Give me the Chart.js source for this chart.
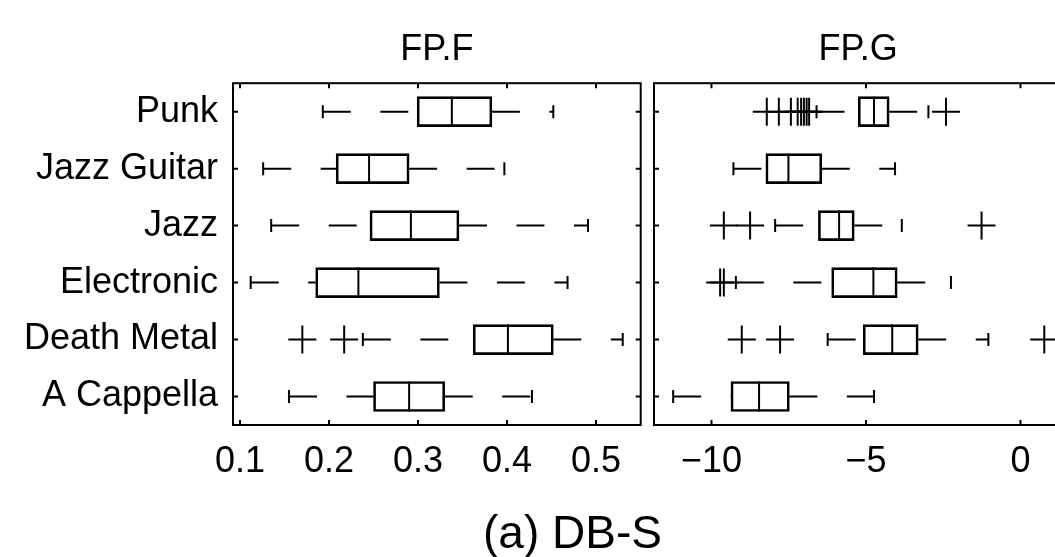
<!DOCTYPE html>
<html>
<head>
<meta charset="utf-8">
<script src="https://cdn.jsdelivr.net/npm/chart.js@4.4.1/dist/chart.umd.min.js"></script>
<style>
  html, body { margin: 0; padding: 0; background: #fff; overflow: hidden; }
  #wrap { position: relative; width: 1055px; height: 557px; overflow: hidden; }
  .panel { position: absolute; top: 0; height: 557px; }
  #left { left: 0; width: 648px; }
  #right { left: 648px; width: 425px; }
  #caption { position: absolute; left: 483px; top: 509px; font-family: 'Liberation Sans', Arial, sans-serif; font-size: 46px; line-height: 46px; white-space: nowrap; color: #000; }
</style>
</head>
<body>
<div id="wrap">
  <div class="panel" id="left"><canvas id="chartF" width="648" height="557"></canvas></div>
  <div class="panel" id="right"><canvas id="chartG" width="425" height="557"></canvas></div>
  <div id="caption">(a) DB-S</div>
</div>
<script>
var categories = ['Punk', 'Jazz Guitar', 'Jazz', 'Electronic', 'Death Metal', 'A Cappella'];

// FP.F boxes (whisker ends, quartiles, median)
var fpfLow  = [0.193, 0.126, 0.135, 0.112, 0.238, 0.155];
var fpfQ1   = [0.299, 0.208, 0.246, 0.185, 0.362, 0.250];
var fpfMed  = [0.338, 0.245, 0.292, 0.233, 0.401, 0.290];
var fpfQ3   = [0.383, 0.290, 0.346, 0.324, 0.452, 0.330];
var fpfHigh = [0.452, 0.397, 0.491, 0.468, 0.530, 0.428];
var fpfOutliers = [[], [], [], [], [0.170, 0.217], []];
var fpfTicks = [0.1, 0.2, 0.3, 0.4, 0.5];

// FP.G boxes
var fpgLow  = [-6.60, -9.29, -7.94, -9.21, -6.24, -11.24];
var fpgQ1   = [-5.25, -8.24, -6.54, -6.11, -5.09, -9.37];
var fpgMed  = [-4.74, -7.51, -5.87, -4.76, -4.15, -8.46];
var fpgQ3   = [-4.25, -6.43, -5.38, -3.99, -3.31, -7.48];
var fpgHigh = [-2.98, -4.06, -3.84, -2.25, -1.04, -4.74];
var fpgOutliers = [
  [-8.21, -7.82, -7.43, -7.21, -7.10, -7.01, -6.92, -6.84, -2.41],
  [],
  [-9.60, -8.75, -1.26],
  [-9.72, -9.60],
  [-9.02, -7.78, 0.77],
  []
];
var fpgTicks = [-10, -5, 0];

var FONT = "'Liberation Sans', Arial, sans-serif";

function boxDatasets(low, q1, med, q3, high, outliers) {
  var whiskers = [], caps = [], meds = [], outs = [];
  categories.forEach(function (c, i) {
    whiskers.push({x: low[i], y: c}, {x: q1[i], y: c}, {x: null, y: c});
    whiskers.push({x: q3[i], y: c}, {x: high[i], y: c}, {x: null, y: c});
    caps.push({x: low[i], y: c}, {x: high[i], y: c});
    meds.push({x: med[i], y: c});
    outliers[i].forEach(function (v) { outs.push({x: v, y: c}); });
  });
  return [
    {
      type: 'bar',
      data: q1.map(function (v, i) { return [v, q3[i]]; }),
      backgroundColor: 'rgba(0,0,0,0)',
      borderColor: '#000',
      borderWidth: 2,
      borderSkipped: false,
      barThickness: 30
    },
    {
      type: 'scatter', data: whiskers, showLine: true, spanGaps: false,
      borderColor: '#000', borderWidth: 2, borderDash: [28, 29.5], pointRadius: 0
    },
    {
      type: 'scatter', data: caps, pointStyle: 'line', rotation: 90,
      pointRadius: 6.5, pointBorderColor: '#000', pointBorderWidth: 2
    },
    {
      type: 'scatter', data: meds, pointStyle: 'line', rotation: 90,
      pointRadius: 15, pointBorderColor: '#000', pointBorderWidth: 2
    },
    {
      type: 'scatter', data: outs, pointStyle: 'cross',
      pointRadius: 14, pointBorderColor: '#000', pointBorderWidth: 2
    }
  ];
}

// frame + inward tick marks, matlab style
var framePlugin = {
  id: 'frame',
  afterDatasetsDraw: function (chart) {
    var a = chart.chartArea, ctx = chart.ctx;
    var xs = chart.scales.x, ys = chart.scales.y;
    ctx.save();
    ctx.strokeStyle = '#000';
    ctx.lineWidth = 2;
    ctx.strokeRect(a.left, a.top, a.right - a.left, a.bottom - a.top);
    ctx.beginPath();
    xs.ticks.forEach(function (t) {
      var px = xs.getPixelForValue(t.value);
      ctx.moveTo(px, a.bottom); ctx.lineTo(px, a.bottom - 5);
      ctx.moveTo(px, a.top); ctx.lineTo(px, a.top + 5);
    });
    categories.forEach(function (c, i) {
      var py = ys.getPixelForValue(i);
      ctx.moveTo(a.left, py); ctx.lineTo(a.left + 5, py);
      ctx.moveTo(a.right, py); ctx.lineTo(a.right - 5, py);
    });
    ctx.stroke();
    ctx.restore();
  }
};

function makeChart(id, title, datasets, xMin, xMax, tickVals, fmt, showY, pad) {
  return new Chart(document.getElementById(id), {
    type: 'bar',
    data: { labels: categories, datasets: datasets },
    options: {
      responsive: false,
      animation: false,
      events: [],
      indexAxis: 'y',
      layout: { padding: pad, autoPadding: false },
      plugins: {
        legend: { display: false },
        tooltip: { enabled: false },
        title: {
          display: true, text: title, fullSize: false, color: '#000',
          font: { family: FONT, size: 36, weight: 'normal' },
          padding: { top: 28, bottom: 12 }
        }
      },
      scales: {
        x: {
          type: 'linear', min: xMin, max: xMax,
          grid: { display: false, drawTicks: false },
          border: { display: false },
          ticks: {
            color: '#000', padding: 15, maxRotation: 0, autoSkip: false,
            font: { family: FONT, size: 36 },
            callback: fmt
          },
          afterBuildTicks: function (s) { s.ticks = tickVals.map(function (v) { return {value: v}; }); },
          afterFit: function (s) {
            s.height = 132;
            s.paddingLeft = 0;
            s.paddingRight = 0;
          }
        },
        y: {
          type: 'category', offset: true, display: showY,
          grid: { display: false, drawTicks: false },
          border: { display: false },
          ticks: { color: '#000', padding: 15, font: { family: FONT, size: 36 } },
          afterFit: function (s) {
            s.width = showY ? 233 : 0;
            s.paddingTop = 0;
            s.paddingBottom = 0;
          }
        }
      }
    },
    plugins: [framePlugin]
  });
}

makeChart('chartF', 'FP.F',
  boxDatasets(fpfLow, fpfQ1, fpfMed, fpfQ3, fpfHigh, fpfOutliers),
  0.0921, 0.5502, fpfTicks,
  function (v) { return v.toFixed(1); },
  true, { top: 0, right: 7.3, bottom: 0, left: 0 });

// right panel runs past the window edge, so its right border is cut off
makeChart('chartG', 'FP.G',
  boxDatasets(fpgLow, fpgQ1, fpgMed, fpgQ3, fpgHigh, fpgOutliers),
  -11.86, 1.35, fpgTicks,
  function (v) { return v < 0 ? '\u2212' + (-v) : String(v); },
  false, { top: 0, right: 10.8, bottom: 0, left: 6 });
</script>
</body>
</html>
